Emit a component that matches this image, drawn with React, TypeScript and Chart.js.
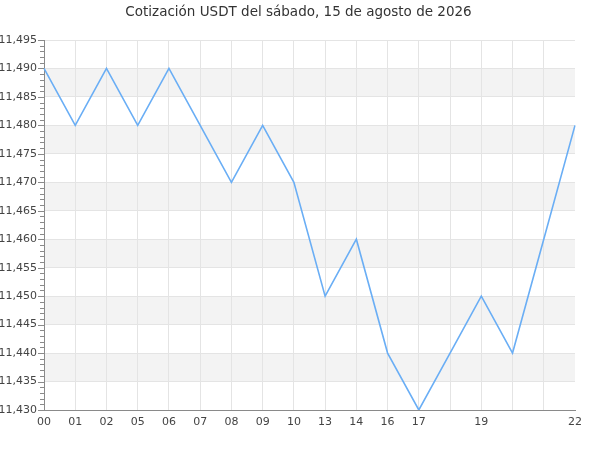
import { useEffect, useRef } from "react";
import { Chart, registerables, Plugin } from "chart.js";

Chart.register(...registerables);

//  Data

const TITLE = "Cotización USDT del sábado, 15 de agosto de 2026";

// hour labels; blanks are points whose label is not shown
const HOURS = [
  "00", "01", "02", "05", "06", "07", "08", "09", "10",
  "13", "14", "16", "17", "", "19", "", "", "22",
];

const PRICES = [
  11.49, 11.48, 11.49, 11.48, 11.49, 11.48, 11.47, 11.48, 11.47,
  11.45, 11.46, 11.44, 11.43, 11.44, 11.45, 11.44, 11.46, 11.48,
];

const Y_MIN = 11.43;
const Y_MAX = 11.495;
const Y_STEP = 0.005;
const Y_MINOR = 0.001;

const LINE = "#6aaef5";
const GRID = "#e4e4e4";
const BAND = "#f3f3f3";
const AXIS = "#8a8a8a";
const TEXT = "#444";
const FONT = "'DejaVu Sans', sans-serif";

//  Plugins

// alternating grey bands between major y ticks
const bandsPlugin: Plugin = {
  id: "bands",
  beforeDraw(chart) {
    const { ctx, chartArea } = chart;
    const y = chart.scales.y;
    ctx.save();
    ctx.fillStyle = BAND;
    const n = Math.round((Y_MAX - Y_MIN) / Y_STEP);
    for (let i = 1; i < n; i += 2) {
      const lo = Y_MIN + i * Y_STEP;
      const hi = lo + Y_STEP;
      const top = y.getPixelForValue(hi);
      const bottom = y.getPixelForValue(lo);
      ctx.fillRect(chartArea.left, top, chartArea.right - chartArea.left, bottom - top);
    }
    ctx.restore();
  },
};

// major and minor tick marks on the y axis
const yTicksPlugin: Plugin = {
  id: "yTicks",
  afterDraw(chart) {
    const { ctx, chartArea } = chart;
    const y = chart.scales.y;
    const n = Math.round((Y_MAX - Y_MIN) / Y_MINOR);
    const every = Math.round(Y_STEP / Y_MINOR);
    ctx.save();
    ctx.strokeStyle = AXIS;
    ctx.lineWidth = 1;
    ctx.beginPath();
    for (let i = 0; i <= n; i++) {
      const py = Math.round(y.getPixelForValue(Y_MIN + i * Y_MINOR)) + 0.5;
      const len = i % every === 0 ? 6 : 4;
      ctx.moveTo(chartArea.left - len, py);
      ctx.lineTo(chartArea.left, py);
    }
    ctx.stroke();
    ctx.restore();
  },
};

//  Component

export default function App() {
  const canvasRef = useRef<HTMLCanvasElement>(null);

  useEffect(() => {
    document.body.style.margin = "0";
    if (!canvasRef.current) return;

    const chart = new Chart(canvasRef.current, {
      type: "line",
      data: {
        labels: HOURS,
        datasets: [
          {
            data: PRICES,
            borderColor: LINE,
            borderWidth: 1.6,
            pointRadius: 0,
            fill: false,
            tension: 0,
          },
        ],
      },
      options: {
        responsive: false,
        animation: false,
        layout: { padding: { top: 0, right: 3, left: 0, bottom: 0 } },
        plugins: {
          legend: { display: false },
          tooltip: { enabled: false },
          title: {
            display: true,
            text: TITLE,
            color: "#333",
            font: { family: FONT, size: 13.5, weight: "normal" },
            padding: { top: 4, bottom: 19.8 },
          },
        },
        scales: {
          x: {
            afterFit: (s) => {
              s.height = 40;
            },
            grid: {
              color: (c) => (c.index === HOURS.length - 1 ? "rgba(0,0,0,0)" : GRID),
              drawTicks: false,
            },
            border: { color: AXIS, width: 1 },
            ticks: {
              autoSkip: false,
              maxRotation: 0,
              padding: 6,
              color: TEXT,
              font: { family: FONT, size: 11 },
            },
          },
          y: {
            min: Y_MIN,
            max: Y_MAX,
            afterFit: (s) => {
              s.width = 44;
            },
            grid: { color: GRID, drawTicks: false },
            border: { color: AXIS, width: 1 },
            ticks: {
              stepSize: Y_STEP,
              padding: 7,
              color: TEXT,
              font: { family: FONT, size: 11 },
              callback: (v) => Number(v).toFixed(3).replace(".", ","),
            },
          },
          // empty right-hand gutter so the title centres on the whole canvas
          gutter: {
            type: "linear",
            position: "right",
            display: true,
            afterFit: (s) => {
              s.width = 22;
            },
            grid: { display: false, drawTicks: false },
            border: { display: false },
            ticks: { display: false },
          },
        },
      },
      plugins: [bandsPlugin, yTicksPlugin],
    });

    return () => chart.destroy();
  }, []);

  return (
    <div style={{ width: 600, height: 450 }}>
      <canvas ref={canvasRef} width={600} height={450} />
    </div>
  );
}
